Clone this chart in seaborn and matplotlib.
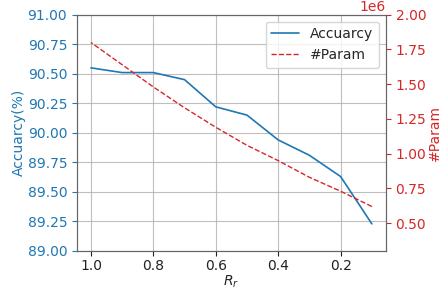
import matplotlib
matplotlib.use("Agg")
import matplotlib.pyplot as plt
import seaborn as sns
import pandas as pd

ratio = [1.0, 0.9, 0.8, 0.7, 0.6, 0.5, 0.4, 0.3, 0.2, 0.1]
accuracy = [90.55, 90.51, 90.51, 90.45, 90.22, 90.15, 89.94, 89.81, 89.63, 89.23]
params = [1.80e6, 1.64e6, 1.48e6, 1.33e6, 1.19e6, 1.06e6, 0.95e6, 0.83e6, 0.73e6, 0.62e6]

df = pd.DataFrame({"ratio": ratio, "acc": accuracy, "param": params})

sns.set_style("ticks", {"axes.grid": True})
plt.rcParams["font.family"] = ["DejaVu Sans"]
plt.rcParams["font.size"] = 10

blue = "#1f77b4"
red = "#d62728"

fig = plt.figure(figsize=(4.42, 2.91), dpi=100)
ax = fig.add_axes([0.174, 0.1375, 0.699, 0.812])
sns.lineplot(data=df, x="ratio", y="acc", ax=ax, color=blue, linewidth=1.2, label="Accuarcy")
ax.set_ylim(89.0, 91.0)
ax.set_yticks([89.0, 89.25, 89.5, 89.75, 90.0, 90.25, 90.5, 90.75, 91.0])
ax.set_yticklabels([f"{v:.2f}" for v in ax.get_yticks()])
ax.set_xticks([1.0, 0.8, 0.6, 0.4, 0.2])
ax.invert_xaxis()
ax.set_xlabel("$R_r$", fontsize=10, labelpad=0.5)
ax.set_ylabel("Accuarcy(%)", color=blue, fontsize=10, labelpad=1.5)
ax.tick_params(axis="y", colors=blue, labelsize=10)
ax.tick_params(axis="x", labelsize=10, colors="#222222", pad=2.5)
ax.tick_params(axis="both", length=3.5, direction="out", left=True, bottom=True)
ax.grid(True, color="#b0b0b0", linewidth=0.8, alpha=0.8)

ax2 = ax.twinx()
sns.lineplot(data=df, x="ratio", y="param", ax=ax2, color=red, linestyle="--", linewidth=1.0, label="#Param")
ax2.set_ylim(0.3e6, 2.0e6)
ax2.set_yticks([0.5e6, 0.75e6, 1.0e6, 1.25e6, 1.5e6, 1.75e6, 2.0e6])
ax2.grid(False)
ax2.set_ylabel("#Param", color=red, fontsize=10, labelpad=1)
ax2.tick_params(axis="y", colors=red, labelsize=10, length=3.5, right=True)
ax2.yaxis.get_offset_text().set_color(red)
ax2.yaxis.get_offset_text().set_fontsize(10)

h1, l1 = ax.get_legend_handles_labels()
h2, l2 = ax2.get_legend_handles_labels()
ax.get_legend().remove()
ax2.legend(h1 + h2, l1 + l2, loc="upper right", fontsize=10)

for a in (ax, ax2):
    for s in a.spines.values():
        s.set_color("#666666")

fig.savefig("out.png", dpi=100)
